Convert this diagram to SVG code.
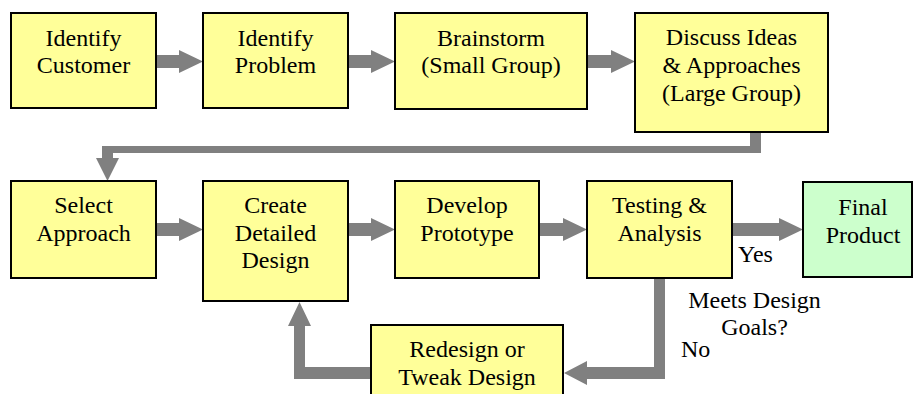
<svg xmlns="http://www.w3.org/2000/svg" width="913" height="394" viewBox="0 0 913 394">
<style>
.box{fill:#FFFF99;stroke:#000;stroke-width:2}
.fin{fill:#CCFFCC;stroke:#000;stroke-width:2}
text{font-family:'Liberation Serif','DejaVu Serif',serif;font-size:24px;fill:#000}
.t{text-anchor:middle}
.c{fill:#808080;stroke:none}
</style>
<rect width="913" height="394" fill="#fff"/>
<g id="connectors">
<path class="c" d="M156 55H179V50L203 61.5L179 73V68H156Z"/>
<path class="c" d="M348 55H371V50L395 61.5L371 73V68H348Z"/>
<path class="c" d="M587 55H611V50L635 61.5L611 73V68H587Z"/>
<path class="c" d="M750 132H761V153H113V158H119L107.5 181L96 158H102V146H750Z"/>
<path class="c" d="M156 223H179V218L203 229.5L179 241V236H156Z"/>
<path class="c" d="M348 223H371V218L395 229.5L371 241V236H348Z"/>
<path class="c" d="M539 223H563V218L587 229.5L563 241V236H539Z"/>
<path class="c" d="M732 223H779V218L803 229.5L779 241V236H732Z"/>
<path class="c" d="M654 278H665V379H587V385L564 373L587 361V367H654Z"/>
<path class="c" d="M371 367V379H294V326H288L299.5 302L311 326H305V367Z"/>
</g>
<g font-family="Liberation Serif, serif">
<g id="identify-customer"><rect class="box" x="11" y="13" width="145" height="95"/><text class="t" x="83.5" y="46">Identify</text><text class="t" x="83.5" y="73">Customer</text></g>
<g id="identify-problem"><rect class="box" x="203" y="13" width="145" height="95"/><text class="t" x="275.5" y="46">Identify</text><text class="t" x="275.5" y="73">Problem</text></g>
<g id="brainstorm"><rect class="box" x="395" y="13" width="192" height="96"/><text class="t" x="491" y="46">Brainstorm</text><text class="t" x="491" y="73">(Small Group)</text></g>
<g id="discuss"><rect class="box" x="635" y="13" width="193" height="119"/><text class="t" x="731.5" y="45">Discuss Ideas</text><text class="t" x="731.5" y="73">&amp; Approaches</text><text class="t" x="731.5" y="101">(Large Group)</text></g>
<g id="select-approach"><rect class="box" x="11" y="181" width="145" height="97"/><text class="t" x="83.5" y="213">Select</text><text class="t" x="83.5" y="241">Approach</text></g>
<g id="create-design"><rect class="box" x="203" y="181" width="145" height="120"/><text class="t" x="275.5" y="213">Create</text><text class="t" x="275.5" y="241">Detailed</text><text class="t" x="275.5" y="268">Design</text></g>
<g id="develop-prototype"><rect class="box" x="395" y="181" width="144" height="97"/><text class="t" x="467" y="213">Develop</text><text class="t" x="467" y="241">Prototype</text></g>
<g id="testing"><rect class="box" x="587" y="181" width="145" height="97"/><text class="t" x="659.5" y="213">Testing &amp;</text><text class="t" x="659.5" y="241">Analysis</text></g>
<g id="final-product"><rect class="fin" x="803" y="182" width="109" height="95"/><text class="t" x="863" y="215">Final</text><text class="t" x="863" y="243">Product</text></g>
<g id="redesign"><rect class="box" x="371" y="325" width="192" height="80"/><text class="t" x="467" y="357">Redesign or</text><text class="t" x="467" y="385">Tweak Design</text></g>
<g id="labels">
<text x="738" y="262">Yes</text>
<text class="t" x="754.5" y="308">Meets Design</text>
<text class="t" x="754.5" y="335">Goals?</text>
<text x="681" y="357">No</text>
</g>
</g>
</svg>
